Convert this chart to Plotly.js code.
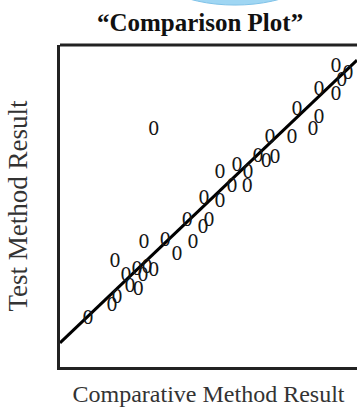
<!DOCTYPE html>
<html>
<head>
<meta charset="utf-8">
<script src="https://cdn.plot.ly/plotly-3.0.1.min.js"></script>
<style>
html,body{margin:0;padding:0;background:#fff;overflow:hidden;}
#chart{width:357px;height:410px;}
</style>
</head>
<body>
<div id="chart"></div>
<script>
// Comparative method result (x) and test method result (y), arbitrary units
const comparative = [9.4, 17.5, 19.2, 18.5, 22.2, 23.6, 25.9, 26.3, 27.9, 29.3, 31.6, 28.3, 35.4, 39.4,
  42.8, 44.8, 48.1, 50.2, 48.5, 53.9, 53.9, 57.9, 59.6, 63.0, 63.3, 66.7, 69.4, 72.4, 70.7, 78.1,
  79.8, 85.2, 87.2, 87.2, 92.9, 92.9, 94.9, 97.0, 31.6];
const testResult = [14.6, 18.9, 21.4, 32.6, 28.0, 24.8, 30.1, 23.9, 28.0, 30.7, 29.8, 38.5, 39.1, 34.5,
  45.3, 38.5, 42.9, 45.3, 51.9, 51.2, 60.2, 55.6, 62.4, 55.9, 60.2, 65.2, 63.4, 64.9, 71.1, 71.1,
  79.8, 73.3, 77.3, 86.0, 84.2, 92.9, 88.8, 90.7, 73.3];
// Fitted line end points
const lineX = [0, 100];
const lineY = [7.5, 95.3];

const pointTrace = {
  x: comparative, y: testResult, type: 'scatter', mode: 'text',
  text: comparative.map(() => '0'),
  textposition: 'middle center',
  textfont: {family: 'DejaVu Serif, serif', size: 18, color: '#151515'},
  hoverinfo: 'skip', showlegend: false, cliponaxis: false
};
const lineTrace = {
  x: lineX, y: lineY, type: 'scatter', mode: 'lines',
  line: {color: '#000', width: 3}, hoverinfo: 'skip', showlegend: false
};

const layout = {
  width: 357, height: 410,
  margin: {l: 60, r: 0, t: 45, b: 43},
  paper_bgcolor: '#fff', plot_bgcolor: '#fff',
  font: {family: 'Liberation Serif, Times New Roman, serif', color: '#222'},
  title: {
    text: '<b>\u201cComparison Plot\u201d</b>',
    font: {family: 'Liberation Serif, Times New Roman, serif', size: 25, color: '#111'},
    xref: 'container', x: 200/357, xanchor: 'center',
    yref: 'container', y: 1 - 22/410, yanchor: 'middle'
  },
  xaxis: {
    range: [0, 100], showgrid: false, zeroline: false, showticklabels: false, ticks: '',
    showline: true, linecolor: '#222', linewidth: 3, fixedrange: true,
    title: {text: 'Comparative Method Result', standoff: 17,
      font: {family: 'Liberation Serif, Times New Roman, serif', size: 24, color: '#333'}}
  },
  yaxis: {
    range: [0, 100], showgrid: false, zeroline: false, showticklabels: false, ticks: '',
    showline: true, linecolor: '#222', linewidth: 3, fixedrange: true,
    title: {text: 'Test Method Result', standoff: 22,
      font: {family: 'Liberation Serif, Times New Roman, serif', size: 27, color: '#333'}}
  },
  shapes: [
    {type: 'line', xref: 'paper', yref: 'paper', x0: 0, x1: 1.05, y0: 1, y1: 1,
     line: {color: '#222', width: 3}},
    {type: 'circle', xref: 'paper', yref: 'paper', x0: 0.259, x1: 0.919, y0: 1.124, y1: 1.45,
     fillcolor: '#9fd6f3', line: {color: '#7fc2e8', width: 1}, layer: 'above'}
  ]
};

Plotly.newPlot('chart', [lineTrace, pointTrace], layout, {staticPlot: true, displayModeBar: false});
</script>
</body>
</html>
